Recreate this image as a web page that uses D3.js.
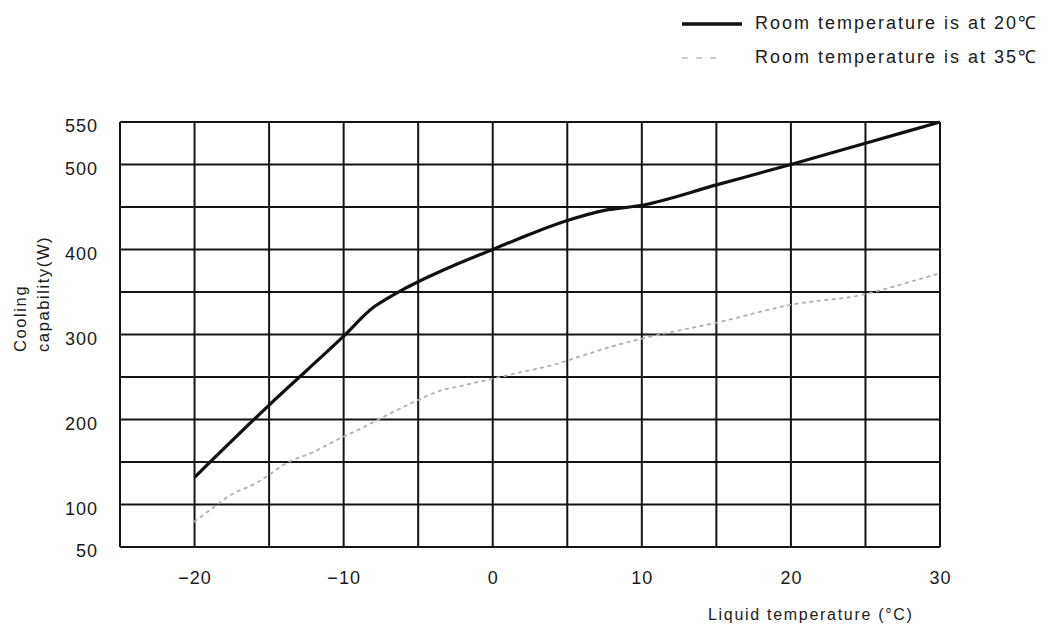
<!DOCTYPE html>
<html>
<head>
<meta charset="utf-8">
<script src="https://cdn.jsdelivr.net/npm/d3@7"></script>
<style>
  html, body { margin: 0; padding: 0; background: #fff; }
  svg { display: block; }
  text { font-family: "Liberation Sans", Arial, sans-serif; fill: #1a1a1a; }
</style>
</head>
<body>
<svg id="chart" width="1045" height="624"></svg>
<script>
// ---- data ----
const seriesNames = ["Room temperature is at 20\u2103", "Room temperature is at 35\u2103"];
const temp20x = [-20, -15, -10, -8, -7, -6, -5, -2.5, 0, 2.5, 5, 7.5, 10, 15, 20, 25, 30];
const temp20y = [132, 217, 298, 332, 343, 353, 362, 382, 400, 418, 434, 446, 452, 476, 500, 525, 550];
const temp35x = [-20, -19, -17.5, -16, -15, -14, -12, -10, -9, -7, -5, -3.5, -2, 0, 2, 4, 6, 8, 10, 12, 14, 16, 18, 20, 22, 24, 26, 28, 30];
const temp35y = [80, 93, 112, 124, 135, 147, 162, 180, 188, 206, 223, 234, 240, 248, 256, 264, 275, 286, 295, 303, 310, 318, 327, 335, 340, 344, 352, 362, 372];
const xTickLabels = [-20, -10, 0, 10, 20, 30];
const yTickLabels = [50, 100, 200, 300, 400, 500, 550];
const xGridValues = [-25, -20, -15, -10, -5, 0, 5, 10, 15, 20, 25, 30];
const yGridValues = [50, 100, 150, 200, 250, 300, 350, 400, 450, 500, 550];
const xTitle = "Liquid temperature (\u00B0C)";
const yTitleLines = ["Cooling", "capability(W)"];

// ---- layout ----
const svg = d3.select("#chart");
const plotLeft = 120, plotRight = 940, plotTop = 122, plotBottom = 547;
const x = d3.scaleLinear().domain([-25, 30]).range([plotLeft, plotRight]);
const y = d3.scaleLinear().domain([50, 550]).range([plotBottom, plotTop]);

// grid
const grid = svg.append("g");
grid.selectAll("line.v").data(xGridValues).enter().append("line")
  .attr("class", "v")
  .attr("x1", d => x(d)).attr("x2", d => x(d))
  .attr("y1", plotTop).attr("y2", plotBottom)
  .attr("stroke", "#141414").attr("stroke-width", 2);
grid.selectAll("line.h").data(yGridValues).enter().append("line")
  .attr("class", "h")
  .attr("y1", d => y(d)).attr("y2", d => y(d))
  .attr("x1", plotLeft).attr("x2", plotRight)
  .attr("stroke", "#141414").attr("stroke-width", 2);

// axes (labels only, via d3 axes)
const xAxis = svg.append("g").attr("transform", `translate(0,${plotBottom})`)
  .call(d3.axisBottom(x).tickValues(xTickLabels).tickSize(0).tickPadding(24)
    .tickFormat(d => d < 0 ? "\u2212" + Math.abs(d) : String(d)));
xAxis.select(".domain").remove();
xAxis.selectAll("text").attr("font-size", 18).attr("letter-spacing", 1)
  .attr("font-family", "Liberation Sans, Arial, sans-serif").attr("fill", "#1a1a1a");

const yAxis = svg.append("g").attr("transform", `translate(${plotLeft},0)`)
  .call(d3.axisLeft(y).tickValues(yTickLabels).tickSize(0).tickPadding(22));
yAxis.select(".domain").remove();
yAxis.selectAll("text").attr("font-size", 18).attr("letter-spacing", 1)
  .attr("dy", "0.55em")
  .attr("font-family", "Liberation Sans, Arial, sans-serif").attr("fill", "#1a1a1a");

// lines
const line = d3.line().x(d => x(d[0])).y(d => y(d[1])).curve(d3.curveMonotoneX);
const d20 = temp20x.map((v, i) => [v, temp20y[i]]);
const d35 = temp35x.map((v, i) => [v, temp35y[i]]);

svg.append("path").datum(d35).attr("d", line)
  .attr("fill", "none").attr("stroke", "#b0b0b0").attr("stroke-width", 1.8)
  .attr("stroke-dasharray", "2.5,5").attr("stroke-linecap", "round");
svg.append("path").datum(d20).attr("d", line)
  .attr("fill", "none").attr("stroke", "#111").attr("stroke-width", 3.2)
  .attr("stroke-linejoin", "round");

// axis titles
svg.append("text").attr("x", 708).attr("y", 620)
  .attr("font-size", 16).attr("letter-spacing", 1.7).text(xTitle);

svg.selectAll("text.ytitle").data(yTitleLines).enter().append("text")
  .attr("class", "ytitle")
  .attr("transform", (d, i) => `translate(${i === 0 ? 26 : 49},352) rotate(-90)`)
  .attr("font-size", 16.5).attr("letter-spacing", 1.6)
  .text(d => d);

// legend
const legend = svg.append("g");
legend.append("line").attr("x1", 682).attr("x2", 742).attr("y1", 24).attr("y2", 24)
  .attr("stroke", "#111").attr("stroke-width", 3.5);
legend.append("line").attr("x1", 682).attr("x2", 716).attr("y1", 58).attr("y2", 58)
  .attr("stroke", "#bbb").attr("stroke-width", 1.5).attr("stroke-dasharray", "6,8");
legend.selectAll("text.leg").data(seriesNames).enter().append("text")
  .attr("class", "leg")
  .attr("x", 755).attr("y", (d, i) => 29 + i * 34)
  .attr("font-size", 18).attr("letter-spacing", 2)
  .text(d => d);
</script>
</body>
</html>
